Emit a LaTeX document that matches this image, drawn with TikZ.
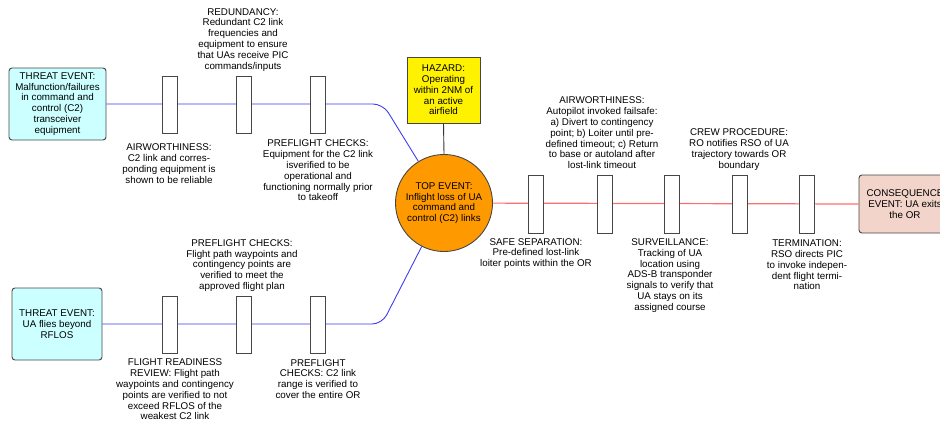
\documentclass[tikz,border=0pt]{standalone}
\usepackage{fontspec}
\setmainfont{Liberation Sans}
\definecolor{threatfill}{RGB}{204,255,255}
\definecolor{topfill}{RGB}{255,153,0}
\definecolor{consfill}{RGB}{242,212,202}
\definecolor{linkblue}{RGB}{60,60,240}
\definecolor{linkred}{RGB}{255,110,110}
\definecolor{edge}{RGB}{70,70,70}
\begin{document}
\begin{tikzpicture}[x=1pt,y=-1pt,
  every node/.style={font=\fontsize{9.8}{10.8}\selectfont, align=center, inner sep=0pt},
  barrier/.style={draw=edge, line width=0.9pt, fill=white, minimum width=15pt, minimum height=57pt},
  threat/.style={draw=edge, line width=0.9pt, fill=threatfill, rounded corners=3pt},
  blueline/.style={draw=linkblue, line width=0.9pt},
  redline/.style={draw=linkred, line width=1.2pt}]
\useasboundingbox (0,0) rectangle (940,423);

% threat events
\node[threat, minimum width=97pt, minimum height=72pt] (t1) at (57.5,104) {THREAT EVENT:\\Malfunction/failures\\in command and\\control (C2)\\transceiver\\equipment};
\node[threat, minimum width=90pt, minimum height=72pt] (t2) at (57,324) {THREAT EVENT:\\UA flies beyond\\RFLOS};

% hazard and top event
\node[draw=edge, line width=0.9pt, fill=yellow, minimum width=73pt, minimum height=66pt] (haz) at (443.5,90) {HAZARD:\\Operating\\within 2NM of\\an active\\airfield};
\node[circle, draw=edge, line width=0.9pt, fill=topfill, minimum size=97pt] (top) at (444,203) {TOP EVENT:\\Inflight loss of UA\\command and\\control (C2) links};

% consequence
\node[draw=edge, line width=0.9pt, fill=consfill, rounded corners=3pt, minimum width=92pt, minimum height=58pt] (cons) at (905,204) {CONSEQUENCE\\EVENT: UA exits\\the OR};

% connectors
\coordinate (c1) at (383,104);
\coordinate (c2) at (382,324);
\draw[blueline, rounded corners=10pt] (t1.east) -- (c1) -- (top);
\draw[blueline, rounded corners=10pt] (t2.east) -- (c2) -- (top);
\draw[redline] (top) -- (cons.west);
\draw[black!80, line width=0.9pt] (haz.south) -- (top.north);

% barriers, upper threat line
\node[barrier] (b11) at (169.5,104.5) {};
\node[barrier] (b12) at (243.5,104.5) {};
\node[barrier] (b13) at (317.5,104.5) {};
% barriers, lower threat line
\node[barrier] (b21) at (169.5,324.5) {};
\node[barrier] (b22) at (243.5,324.5) {};
\node[barrier] (b23) at (317.5,324.5) {};
% barriers, consequence line
\node[barrier, minimum height=58pt] (b31) at (536,204) {};
\node[barrier, minimum height=58pt] (b32) at (604.5,204) {};
\node[barrier, minimum height=58pt] (b33) at (671.5,204) {};
\node[barrier, minimum height=58pt] (b34) at (739.5,204) {};
\node[barrier, minimum height=58pt] (b35) at (806.5,204) {};

% barrier labels
\node (l12) at (243,39.7) {REDUNDANCY:\\Redundant C2 link\\frequencies and\\equipment to ensure\\that UAs receive PIC\\commands/inputs};
\node (l11) at (169,163.5) {AIRWORTHINESS:\\C2 link and corres-\\ponding equipment is\\shown to be reliable};
\node (l13) at (318,170.5) {PREFLIGHT CHECKS:\\Equipment for the C2 link\\isverified to be\\operational and\\functioning normally prior\\to takeoff};

\node (l22) at (242,265.5) {PREFLIGHT CHECKS:\\Flight path waypoints and\\contingency points are\\verified to meet the\\approved flight plan};
\node (l21) at (175,389.5) {FLIGHT READINESS\\REVIEW: Flight path\\waypoints and contingency\\points are verified to not\\exceed RFLOS of the\\weakest C2 link};
\node (l23) at (318,379) {PREFLIGHT\\CHECKS: C2 link\\range is verified to\\cover the entire OR};

\node (l32) at (602,133) {AIRWORTHINESS:\\Autopilot invoked failsafe:\\a) Divert to contingency\\point; b) Loiter until pre-\\defined timeout; c) Return\\to base or autoland after\\lost-link timeout};
\node (l34) at (739,149.5) {CREW PROCEDURE:\\RO notifies RSO of UA\\trajectory towards OR\\boundary};
\node (l31) at (536,253.5) {SAFE SEPARATION:\\Pre-defined lost-link\\loiter points within the OR};
\node (l33) at (670,275.5) {SURVEILLANCE:\\Tracking of UA\\location using\\ADS-B transponder\\signals to verify that\\UA stays on its\\assigned course};
\node (l35) at (807,265) {TERMINATION:\\RSO directs PIC\\to invoke indepen-\\dent flight termi-\\nation};
\end{tikzpicture}
\end{document}
